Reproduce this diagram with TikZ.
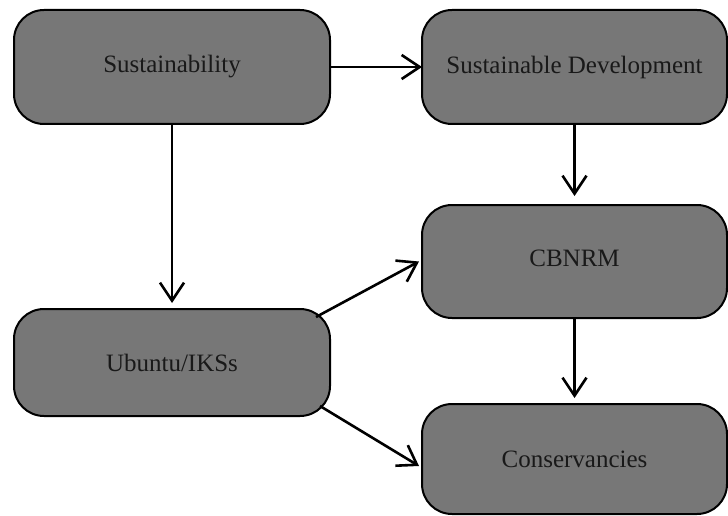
\documentclass[tikz,border=0pt]{standalone}
\usepackage{fontspec}
\setmainfont{Liberation Serif}
\usetikzlibrary{arrows.meta,calc}
\definecolor{boxgray}{HTML}{777777}
\begin{document}
\begin{tikzpicture}[x=1pt,y=-1pt,
  box/.style={draw=black,line width=2pt,fill=boxgray,rounded corners=30pt,
    inner sep=0pt,outer sep=0pt,font=\fontsize{25}{29}\selectfont,text=black!90},
  conn/.style={line width=2.6pt,-{Straight Barb[length=18pt,width=24pt,line width=2.6pt]}}]
\useasboundingbox (0,0) rectangle (728,516);
\node[box,minimum width=316pt,minimum height=114pt] (sus) at (172,67) {Sustainability};
\node[box,minimum width=305pt,minimum height=114pt] (sd) at (574.5,67) {Sustainable Development};
\node[box,minimum width=305pt,minimum height=113pt] (cbn) at (574.5,261.5) {\raisebox{6pt}{CBNRM}};
\node[box,minimum width=316pt,minimum height=107pt] (ubu) at (172,362.5) {Ubuntu/IKSs};
\node[box,minimum width=305pt,minimum height=110pt] (con) at (574.5,459) {Conservancies};
\draw[conn] (sus.east) -- (sd.west);
\draw[conn] (sus.south) -- ($(ubu.north)+(0,-6)$);
\draw[conn] (sd.south) -- ($(cbn.north)+(0,-9)$);
\draw[conn] (cbn.south) -- ($(con.north)+(0,-6)$);
\draw[conn] ($(ubu.north east)+(-14,8)$) -- ($(cbn.west)+(-3,0)$);
\draw[conn] ($(ubu.south east)+(-10,-10)$) -- ($(con.west)+(-3,7)$);
\end{tikzpicture}
\end{document}
